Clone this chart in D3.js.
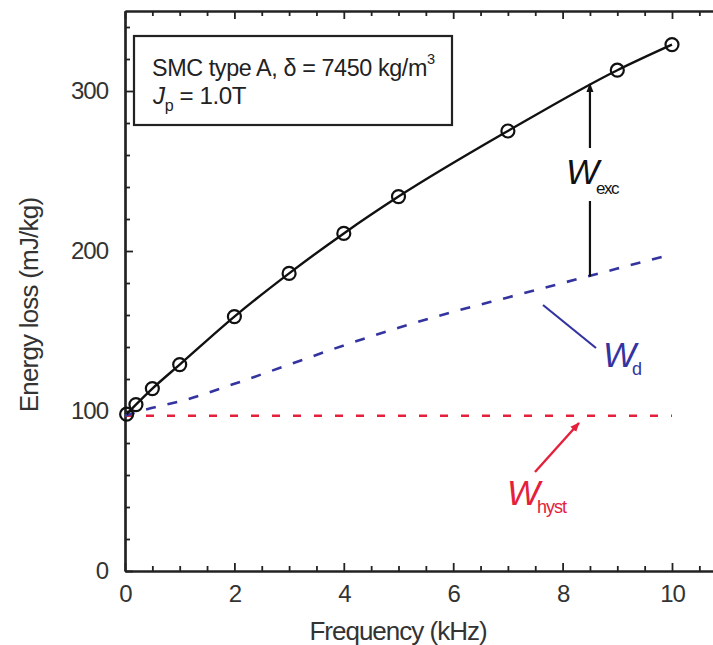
<!DOCTYPE html>
<html><head><meta charset="utf-8">
<script src="https://cdn.jsdelivr.net/npm/d3@7"></script>
<style>
body{margin:0;background:#fff;}
svg{display:block;font-family:"Liberation Sans",Arial,sans-serif;}
</style></head>
<body><svg id="c" width="713" height="645"></svg>
<script>
// ---- data ----
const freqMeasured = [0.03, 0.2, 0.5, 1, 2, 3, 4, 5, 7, 9, 10];
const lossMeasured = [98, 104, 114, 129, 159, 186, 211, 234, 275, 313, 329];
const freqWd = [0, 0.5, 1, 2, 3, 4, 5, 6, 7, 8, 9, 10];
const lossWd = [97, 102, 106, 117, 129, 141, 152, 162, 171, 180, 189, 198];
const freqHyst = [0, 10];
const lossHyst = [97, 97];
const xTicks = [0, 2, 4, 6, 8, 10];
const yTicks = [0, 100, 200, 300];

const svg = d3.select("#c");
const x = d3.scaleLinear().domain([0, 11]).range([125, 726.7]);
const y = d3.scaleLinear().domain([0, 350]).range([571, 11]);

const xMinor = d3.range(0, 11.01, 0.5).filter(v => !xTicks.includes(v));
const yMinor = d3.range(0, 351, 20).filter(v => !yTicks.includes(v));

function styleAxis(g){
  g.select(".domain").attr("stroke","#222").attr("stroke-width",2.2);
  g.selectAll(".tick line").attr("stroke","#222").attr("stroke-width",1.8);
  g.selectAll("text").attr("fill","#333").attr("font-size",24).attr("letter-spacing",-1)
   .attr("font-family","'Liberation Sans',Arial,sans-serif");
}
// bottom axis
svg.append("g").attr("transform",`translate(0,${y(0)})`)
  .call(d3.axisBottom(x).tickValues(xTicks).tickSize(-8).tickPadding(14).tickSizeOuter(0).tickFormat(d3.format("d")))
  .call(styleAxis);
svg.append("g").attr("transform",`translate(0,${y(0)})`)
  .call(d3.axisBottom(x).tickValues(xMinor).tickSize(-5).tickFormat("").tickSizeOuter(0))
  .call(styleAxis);
// top axis
svg.append("g").attr("transform",`translate(0,${y(350)})`)
  .call(d3.axisTop(x).tickValues(xTicks).tickSize(-8).tickFormat("").tickSizeOuter(0))
  .call(styleAxis);
svg.append("g").attr("transform",`translate(0,${y(350)})`)
  .call(d3.axisTop(x).tickValues(xMinor).tickSize(-5).tickFormat("").tickSizeOuter(0))
  .call(styleAxis);
// left axis
svg.append("g").attr("transform",`translate(${x(0)},0)`)
  .call(d3.axisLeft(y).tickValues(yTicks).tickSize(-8).tickPadding(17).tickSizeOuter(0).tickFormat(d3.format("d")))
  .call(styleAxis);
svg.append("g").attr("transform",`translate(${x(0)},0)`)
  .call(d3.axisLeft(y).tickValues(yMinor).tickSize(-5).tickFormat("").tickSizeOuter(0))
  .call(styleAxis);

// axis titles
svg.append("text").attr("x",398).attr("y",640).attr("text-anchor","middle")
  .attr("font-size",26).attr("letter-spacing",-1).attr("fill","#333").text("Frequency (kHz)");
svg.append("text").attr("transform","translate(38,305) rotate(-90)").attr("text-anchor","middle")
  .attr("font-size",26).attr("letter-spacing",-0.8).attr("fill","#333").text("Energy loss (mJ/kg)");

// lines
const line = d3.line().x(d=>x(d[0])).y(d=>y(d[1]));
svg.append("path").datum(d3.zip(freqHyst,lossHyst)).attr("d",line)
  .attr("fill","none").attr("stroke","#e5203b").attr("stroke-width",2.6).attr("stroke-dasharray","8,13");
svg.append("path").datum(d3.zip(freqWd,lossWd)).attr("d",line.curve(d3.curveMonotoneX))
  .attr("fill","none").attr("stroke","#3434a0").attr("stroke-width",2.6).attr("stroke-dasharray","10,12");
svg.append("path").datum(d3.zip(freqMeasured,lossMeasured)).attr("d",d3.line().x(d=>x(d[0])).y(d=>y(d[1])).curve(d3.curveMonotoneX))
  .attr("fill","none").attr("stroke","#111").attr("stroke-width",2.4);
svg.selectAll("circle.m").data(d3.zip(freqMeasured,lossMeasured)).join("circle")
  .attr("cx",d=>x(d[0])).attr("cy",d=>y(d[1])).attr("r",6.5)
  .attr("fill","none").attr("stroke","#111").attr("stroke-width",2.2);

// info box
svg.append("rect").attr("x",134).attr("y",36).attr("width",318).attr("height",89)
  .attr("fill","#fff").attr("stroke","#222").attr("stroke-width",2.2);
function fitted(x0, y0, width, build){
  const g = svg.append("g");
  const t = g.append("text").attr("x",0).attr("y",0).attr("fill","#222");
  build(t);
  const w = t.node().getBBox().width;
  g.attr("transform",`translate(${x0},${y0}) scale(${width / w},1)`);
}
fitted(152, 76, 283, t => {
  t.attr("font-size",24).attr("letter-spacing",-0.4);
  t.append("tspan").text("SMC type A, δ = 7450 kg/m");
  t.append("tspan").attr("font-size",15).attr("dy",-12).text("3");
});
fitted(153, 104, 95, t => {
  t.attr("font-size",24).attr("letter-spacing",-0.4);
  t.append("tspan").attr("font-style","italic").text("J");
  t.append("tspan").attr("font-size",16).attr("dy",7).text("p");
  t.append("tspan").attr("dy",-7).text(" = 1.0T");
});

// annotations
const defs = svg.append("defs");
function marker(id,color){
  defs.append("marker").attr("id",id).attr("viewBox","0 0 10 10").attr("refX",9).attr("refY",5)
    .attr("markerWidth",4).attr("markerHeight",4).attr("orient","auto")
    .append("path").attr("d","M0,1 L10,5 L0,9 z").attr("fill",color);
}
marker("ak","#111"); marker("ar","#e5203b");
const fx = 8.5;
svg.append("line").attr("x1",x(fx)).attr("x2",x(fx)).attr("y1",148).attr("y2",y(305)+1)
  .attr("stroke","#111").attr("stroke-width",2.2).attr("marker-end","url(#ak)");
svg.append("line").attr("x1",x(fx)).attr("x2",x(fx)).attr("y1",201).attr("y2",y(184))
  .attr("stroke","#111").attr("stroke-width",2.2);
const we = svg.append("text").attr("x",566).attr("y",184).attr("fill","#111");
we.append("tspan").attr("font-size",35).attr("font-style","italic").attr("letter-spacing",-3).text("W");
we.append("tspan").attr("font-size",17).attr("dy",10).attr("letter-spacing",-1.5).text("exc");

svg.append("line").attr("x1",543).attr("y1",305).attr("x2",596).attr("y2",348)
  .attr("stroke","#3434a0").attr("stroke-width",2.2);
const wd = svg.append("text").attr("x",603).attr("y",367).attr("fill","#3434a0");
wd.append("tspan").attr("font-size",35).attr("font-style","italic").attr("letter-spacing",-4).text("W");
wd.append("tspan").attr("font-size",18).attr("dy",8).text("d");

svg.append("line").attr("x1",535).attr("y1",472).attr("x2",579).attr("y2",423)
  .attr("stroke","#e5203b").attr("stroke-width",2.4).attr("marker-end","url(#ar)");
const wh = svg.append("text").attr("x",507).attr("y",505).attr("fill","#e5203b");
wh.append("tspan").attr("font-size",35).attr("font-style","italic").attr("letter-spacing",-3).text("W");
wh.append("tspan").attr("font-size",18).attr("dy",8).attr("letter-spacing",-1).text("hyst");
</script></body></html>
